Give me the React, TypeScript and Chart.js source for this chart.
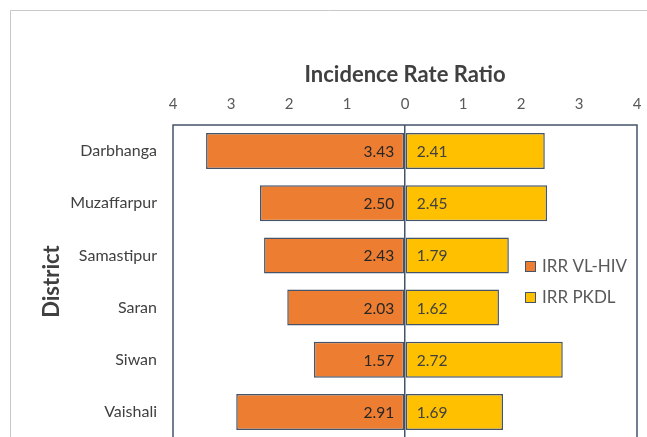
import React, { useEffect, useRef } from "react";
import { Chart, registerables } from "chart.js";

Chart.register(...registerables);

const categories = ["Darbhanga", "Muzaffarpur", "Samastipur", "Saran", "Siwan", "Vaishali"];
const irrVlHiv = [3.43, 2.5, 2.43, 2.03, 1.57, 2.91];
const irrPkdl = [2.41, 2.45, 1.79, 1.62, 2.72, 1.69];
const seriesNames = ["IRR VL-HIV", "IRR PKDL"];
const seriesColors = ["#ED7D31", "#FFC000"];
const xMin = -4;
const xMax = 4;

const FONT = "Lato, 'Open Sans', sans-serif";
const NAVY = "#44546A";

const decorPlugin = {
  id: "decor",
  beforeDraw(chart: any) {
    const ctx = chart.ctx;
    ctx.save();
    ctx.strokeStyle = "#C8C8C8";
    ctx.lineWidth = 1;
    ctx.beginPath();
    ctx.moveTo(10.5, chart.height);
    ctx.lineTo(10.5, 10.5);
    ctx.lineTo(chart.width, 10.5);
    ctx.stroke();
    ctx.restore();
  },
  afterDatasetsDraw(chart: any) {
    const ctx = chart.ctx;
    const area = chart.chartArea;
    ctx.save();
    // plot border
    ctx.strokeStyle = NAVY;
    ctx.lineWidth = 1.5;
    ctx.strokeRect(area.left, area.top, area.right - area.left, area.bottom - area.top);
    // data labels
    ctx.font = `15.5px ${FONT}`;
    ctx.textBaseline = "middle";
    chart.data.datasets.forEach((ds: any, di: number) => {
      const meta = chart.getDatasetMeta(di);
      meta.data.forEach((bar: any, i: number) => {
        const v = Math.abs(ds.data[i]).toFixed(2);
        if (ds.data[i] < 0) {
          ctx.fillStyle = "#262626";
          ctx.textAlign = "right";
          ctx.fillText(v, bar.base - 10, bar.y + 1);
        } else {
          ctx.fillStyle = "#404040";
          ctx.textAlign = "left";
          ctx.fillText(v, bar.base + 11, bar.y + 1);
        }
      });
    });
    // legend
    ctx.font = `17px ${FONT}`;
    ctx.textAlign = "left";
    const lx = area.right - 112;
    chart.data.datasets.forEach((ds: any, di: number) => {
      const cy = area.top + 141 + di * 31;
      ctx.fillStyle = ds.backgroundColor;
      ctx.fillRect(lx, cy - 5, 10, 10);
      ctx.strokeStyle = NAVY;
      ctx.lineWidth = 1;
      ctx.strokeRect(lx + 0.5, cy - 4.5, 10, 10);
      ctx.fillStyle = "#595959";
      ctx.fillText(ds.label, lx + 17, cy + 1);
    });
    ctx.restore();
  },
};

export default function App() {
  const ref = useRef<HTMLCanvasElement>(null);

  useEffect(() => {
    if (!ref.current) return;
    const chart = new Chart(ref.current, {
      type: "bar",
      data: {
        labels: categories,
        datasets: [
          {
            label: seriesNames[0],
            data: irrVlHiv.map((v) => -v),
            backgroundColor: seriesColors[0],
            borderColor: NAVY,
            borderWidth: 1.5,
            borderSkipped: false,
          },
          {
            label: seriesNames[1],
            data: irrPkdl,
            backgroundColor: seriesColors[1],
            borderColor: NAVY,
            borderWidth: 1.5,
            borderSkipped: false,
          },
        ],
      },
      options: {
        indexAxis: "y",
        animation: false,
        responsive: false,
        maintainAspectRatio: false,
        layout: { padding: { top: 60, left: 30, right: 10, bottom: 7 } },
        datasets: { bar: { categoryPercentage: 1, barPercentage: 0.69 } },
        plugins: { legend: { display: false }, tooltip: { enabled: false } },
        scales: {
          x: {
            position: "top",
            stacked: true,
            min: xMin,
            max: xMax,
            ticks: {
              stepSize: 1,
              padding: 12,
              color: "#595959",
              font: { family: FONT, size: 15 },
              callback: (v: any) => String(Math.abs(Number(v))),
            },
            grid: {
              drawTicks: false,
              lineWidth: 1.5,
              color: (c: any) => (c.tick && c.tick.value === 0 ? NAVY : "rgba(0,0,0,0)"),
            },
            border: { display: false },
            title: {
              display: true,
              text: "Incidence Rate Ratio",
              color: "#404040",
              font: { family: FONT, size: 22, weight: "bold" },
              padding: { top: 2, bottom: 0 },
            },
            afterFit: (s: any) => {
              s.height = 65;
              s.paddingLeft = 0;
              s.paddingRight = 0;
            },
          },
          y: {
            stacked: true,
            ticks: {
              padding: 16,
              color: "#404040",
              font: { family: FONT, size: 16 },
            },
            grid: { display: false, drawTicks: false },
            border: { display: false },
            title: {
              display: true,
              text: "District",
              color: "#404040",
              font: { family: FONT, size: 22, weight: "bold" },
              padding: { top: 9, bottom: 0 },
            },
            afterFit: (s: any) => {
              s.width = 143;
              s.paddingTop = 0;
              s.paddingBottom = 0;
            },
          },
        },
      },
      plugins: [decorPlugin],
    } as any);
    return () => chart.destroy();
  }, []);

  return (
    <div style={{ position: "absolute", left: 0, top: 0, width: 647, height: 437, overflow: "hidden", background: "#fff" }}>
      <canvas ref={ref} width={647} height={445} style={{ display: "block", width: 647, height: 445 }} />
    </div>
  );
}
